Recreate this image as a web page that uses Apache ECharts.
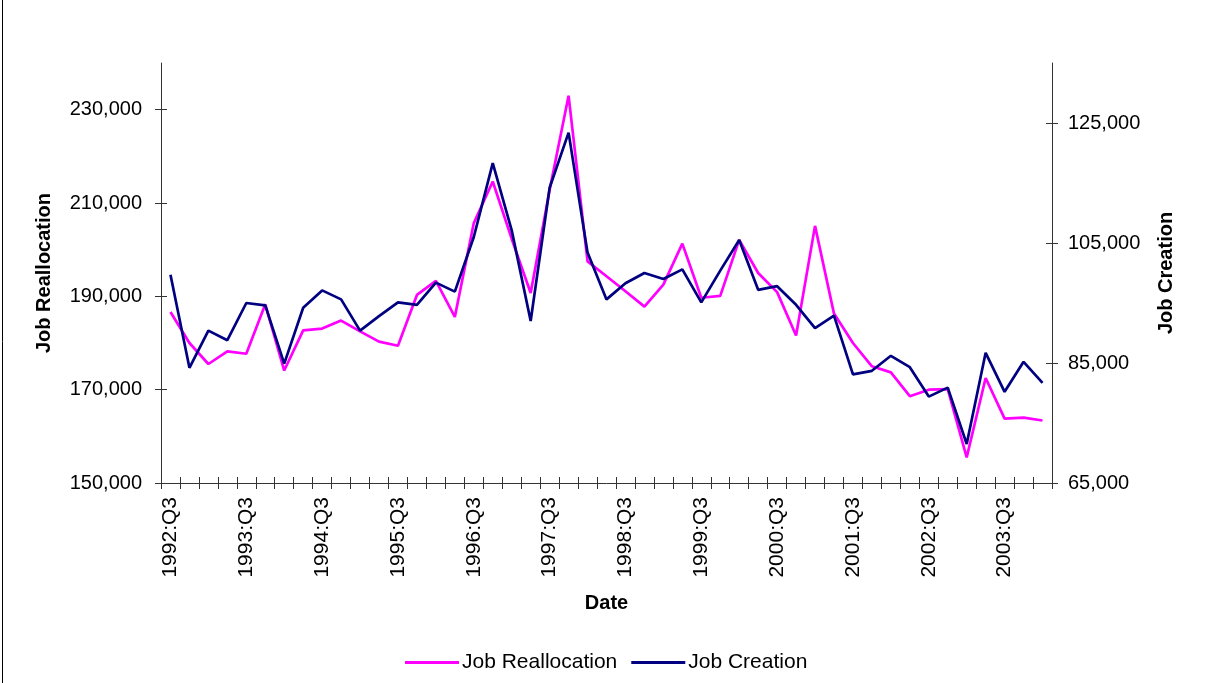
<!DOCTYPE html>
<html>
<head>
<meta charset="utf-8">
<script src="https://cdn.jsdelivr.net/npm/echarts@6/dist/echarts.min.js"></script>
<style>
  html, body { margin: 0; padding: 0; background: #fff; }
  #chart { width: 1205px; height: 683px; }
</style>
</head>
<body>
<div id="chart"></div>
<script>
const categories = [
  '1992:Q3','1992:Q4','1993:Q1','1993:Q2','1993:Q3','1993:Q4','1994:Q1','1994:Q2',
  '1994:Q3','1994:Q4','1995:Q1','1995:Q2','1995:Q3','1995:Q4','1996:Q1','1996:Q2',
  '1996:Q3','1996:Q4','1997:Q1','1997:Q2','1997:Q3','1997:Q4','1998:Q1','1998:Q2',
  '1998:Q3','1998:Q4','1999:Q1','1999:Q2','1999:Q3','1999:Q4','2000:Q1','2000:Q2',
  '2000:Q3','2000:Q4','2001:Q1','2001:Q2','2001:Q3','2001:Q4','2002:Q1','2002:Q2',
  '2002:Q3','2002:Q4','2003:Q1','2003:Q2','2003:Q3','2003:Q4','2004:Q1'
];
const jobReallocation = [
  186650, 180000, 175500, 178200, 177700, 188300, 174100, 182700,
  183100, 184800, 182500, 180300, 179400, 190300, 193300, 185600,
  205700, 214600, 202300, 190700, 212800, 233000, 197500, 194300,
  191100, 187800, 192500, 201300, 189700, 190100, 202100, 195000,
  190900, 181600, 205100, 186300, 180000, 175000, 173700, 168600,
  170000, 170100, 155500, 172500, 163800, 164000, 163400
];
const jobCreation = [
  99700, 84200, 90400, 88800, 95000, 94600, 84900, 94200,
  97100, 95600, 90400, 92800, 95100, 94700, 98400, 96900,
  106000, 118300, 107100, 92000, 114200, 123400, 103400, 95600,
  98300, 100000, 99000, 100600, 95100, 100400, 105500, 97200,
  97800, 94700, 90800, 92900, 83100, 83700, 86200, 84300,
  79400, 80900, 71500, 86700, 80200, 85200, 81700
];
const leftTicks = [150000, 170000, 190000, 210000, 230000];
const rightTicks = [65000, 85000, 105000, 125000];

const FONT = "'Liberation Sans', Arial, sans-serif";
const AXIS_COLOR = '#333';
const fmt = v => v.toLocaleString('en-US');

const chart = echarts.init(document.getElementById('chart'), null, { renderer: 'canvas' });

const yBase = (pos, min, max, ticks, name, gap, inside) => ({
  type: 'value',
  position: pos,
  min: min,
  max: max,
  name: inside ? '' : name,
  nameLocation: 'middle',
  nameGap: gap,
  nameTextStyle: { fontFamily: FONT, fontSize: 20, fontWeight: 'bold', color: '#000' },
  axisLine: { show: !inside, lineStyle: { color: AXIS_COLOR, width: 1 } },
  axisTick: { show: true, inside: inside, length: 6, customValues: ticks, lineStyle: { color: AXIS_COLOR, width: 1 } },
  axisLabel: { show: !inside, customValues: ticks, margin: pos === 'left' ? 19 : 16,
               fontFamily: FONT, fontSize: 20, color: '#000', formatter: fmt },
  splitLine: { show: false }
});

const xBase = (inside) => ({
  type: 'category',
  position: 'bottom',
  data: categories,
  boundaryGap: true,
  name: inside ? '' : 'Date',
  nameLocation: 'middle',
  nameGap: 110,
  nameTextStyle: { fontFamily: FONT, fontSize: 20, fontWeight: 'bold', color: '#000' },
  axisLine: { show: !inside, lineStyle: { color: AXIS_COLOR, width: 1 } },
  axisTick: { show: true, inside: inside, length: 6, interval: 0, lineStyle: { color: AXIS_COLOR, width: 1 } },
  axisLabel: { show: !inside, interval: 3, rotate: 90, margin: 14,
               fontFamily: FONT, fontSize: 21, color: '#000' },
  splitLine: { show: false }
});

chart.setOption({
  animation: false,
  backgroundColor: '#fff',
  grid: { left: 161, right: 153, top: 63, bottom: 200, containLabel: false },
  legend: {
    left: 400,
    top: 647,
    icon: 'rect',
    itemWidth: 54,
    itemHeight: 3,
    itemGap: 14,
    textStyle: { fontFamily: FONT, fontSize: 21, color: '#000', padding: [0, 0, 0, -2] },
    data: ['Job Reallocation', 'Job Creation']
  },
  xAxis: [xBase(false), xBase(true)],
  yAxis: [
    yBase('left', 150000, 240000, leftTicks, 'Job Reallocation', 107, false),
    yBase('right', 65000, 135000, rightTicks, 'Job Creation', 104, false),
    yBase('left', 150000, 240000, leftTicks, '', 0, true),
    yBase('right', 65000, 135000, rightTicks, '', 0, true)
  ],
  graphic: [{
    type: 'line',
    shape: { x1: 2.5, y1: 0, x2: 2.5, y2: 683 },
    style: { stroke: '#000', lineWidth: 1 }
  }],
  series: [
    {
      name: 'Job Reallocation',
      type: 'line',
      xAxisIndex: 0,
      yAxisIndex: 0,
      data: jobReallocation,
      symbol: 'none',
      lineStyle: { color: '#FF00FF', width: 2.7 },
      itemStyle: { color: '#FF00FF' }
    },
    {
      name: 'Job Creation',
      type: 'line',
      xAxisIndex: 0,
      yAxisIndex: 1,
      data: jobCreation,
      symbol: 'none',
      lineStyle: { color: '#000080', width: 2.7 },
      itemStyle: { color: '#000080' }
    }
  ]
});
</script>
</body>
</html>
